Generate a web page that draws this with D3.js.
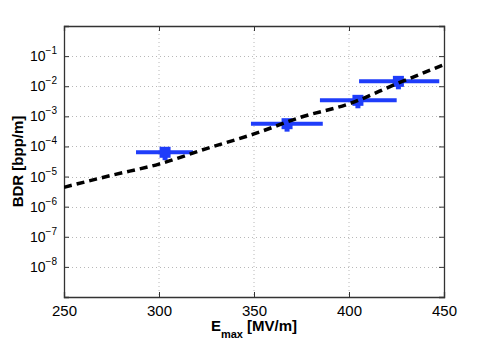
<!DOCTYPE html>
<html><head><meta charset="utf-8">
<script src="https://cdn.jsdelivr.net/npm/d3@7"></script>
<style>body{margin:0;background:#fff}svg{display:block;font-family:"Liberation Sans",Arial,sans-serif}</style>
</head><body>
<script>
// Measured points (E_max in MV/m, BDR in bpp/m)
const pointE    = [303.2, 367.4, 404.7, 426.0];
const pointBDR  = [6.4e-5, 5.7e-4, 3.4e-3, 1.45e-2];
const errELow   = [287.9, 348.4, 384.7, 405.3];
const errEHigh  = [317.9, 386.2, 425.1, 447.5];
const errBLow   = [3.5e-5, 3.1e-4, 1.85e-3, 7.9e-3];
const errBHigh  = [6.4e-5, 5.7e-4, 3.4e-3, 1.45e-2];
// Fitted curve (dashed)
const fitE   = [250, 275, 300, 325, 350, 375, 400, 425, 450];
const fitBDR = [4.4e-6, 1.1e-5, 2.6e-5, 8.5e-5, 2.6e-4, 9.5e-4, 2.6e-3, 1.2e-2, 5.2e-2];
// Ticks
const xTicks = [250, 300, 350, 400, 450];
const yTickExp = [-8, -7, -6, -5, -4, -3, -2, -1];

const W = 491, H = 345;
const m = {l: 64, r: 47, t: 26, b: 48};
const svg = d3.select("body").append("svg").attr("width", W).attr("height", H);
const x = d3.scaleLinear().domain([250, 450]).range([m.l, W - m.r]);
const y = d3.scaleLog().domain([1e-9, 1]).range([H - m.b, m.t]);
const yTicks = yTickExp.map(e => Math.pow(10, e));

const blue = "#1f3dfa";
const g = svg.append("g");

// grid
g.selectAll(".gx").data(xTicks.slice(1, -1)).join("line")
  .attr("x1", d => x(d)).attr("x2", d => x(d)).attr("y1", m.t).attr("y2", H - m.b)
  .attr("stroke", "#b8b8b8").attr("stroke-width", 1).attr("stroke-dasharray", "1,3");
g.selectAll(".gy").data(yTicks).join("line")
  .attr("x1", m.l).attr("x2", W - m.r).attr("y1", d => Math.round(y(d)) + 0.5).attr("y2", d => Math.round(y(d)) + 0.5)
  .attr("stroke", "#b8b8b8").attr("stroke-width", 1).attr("stroke-dasharray", "1,3");

// axes (ticks inward)
const axB = d3.axisBottom(x).tickValues(xTicks).tickSize(-5).tickPadding(8).tickFormat(d3.format("d"));
const axT = d3.axisTop(x).tickValues(xTicks).tickSize(-5).tickFormat("");
const axL = d3.axisLeft(y).tickValues(yTicks).tickSize(-5).tickFormat("");
const axR = d3.axisRight(y).tickValues(yTicks).tickSize(-5).tickFormat("");
const gb = svg.append("g").attr("transform", `translate(0,${H - m.b})`).call(axB);
svg.append("g").attr("transform", `translate(0,${m.t})`).call(axT);
const gl = svg.append("g").attr("transform", `translate(${m.l},0)`).call(axL);
svg.append("g").attr("transform", `translate(${W - m.r},0)`).call(axR);
svg.selectAll(".domain").attr("stroke", "#333").attr("stroke-width", 1.3);
svg.selectAll(".tick line").attr("stroke", "#333");
gb.selectAll("text").attr("font-size", 15).attr("fill", "#000").attr("font-family", "Liberation Sans, Arial, sans-serif");

// y tick labels 10^n
const yl = svg.append("g");
yTickExp.forEach(e => {
  const t = yl.append("text").attr("x", m.l - 7).attr("y", y(Math.pow(10, e)) + 5)
    .attr("text-anchor", "end").attr("font-size", 14).attr("fill", "#000");
  t.append("tspan").text("10");
  t.append("tspan").attr("dy", -7).attr("font-size", 10).text("\u2212" + Math.abs(e));
});

// fitted dashed curve
const line = d3.line().x((d, i) => x(fitE[i])).y(d => y(d)).curve(d3.curveMonotoneX);
svg.append("clipPath").attr("id", "c").append("rect")
  .attr("x", m.l).attr("y", m.t).attr("width", W - m.l - m.r).attr("height", H - m.t - m.b);

// error bars
const pts = svg.append("g");
pts.selectAll(".eh").data(pointE).join("line")
  .attr("x1", (d, i) => x(errELow[i])).attr("x2", (d, i) => x(errEHigh[i]))
  .attr("y1", (d, i) => y(pointBDR[i])).attr("y2", (d, i) => y(pointBDR[i]))
  .attr("stroke", blue).attr("stroke-width", 4);
pts.selectAll(".ev").data(pointE).join("line")
  .attr("x1", d => x(d)).attr("x2", d => x(d))
  .attr("y1", (d, i) => y(errBLow[i])).attr("y2", (d, i) => y(errBHigh[i]))
  .attr("stroke", blue).attr("stroke-width", 5);
pts.selectAll("rect").data(pointE).join("rect")
  .attr("x", d => x(d) - 5.5).attr("y", (d, i) => y(pointBDR[i]) - 5.5)
  .attr("width", 11).attr("height", 11).attr("fill", blue);

svg.append("path").datum(fitBDR).attr("d", line).attr("clip-path", "url(#c)")
  .attr("fill", "none").attr("stroke", "#000").attr("stroke-width", 3.5).attr("stroke-dasharray", "8,5");

// axis labels
const xl = svg.append("text").attr("x", 254).attr("y", 331).attr("text-anchor", "middle")
  .attr("font-size", 15).attr("font-weight", "bold").attr("fill", "#000");
xl.append("tspan").text("E");
xl.append("tspan").attr("dy", 7).attr("font-size", 11).text("max");
xl.append("tspan").attr("dy", -7).text(" [MV/m]");
svg.append("text").attr("transform", `translate(23,${(m.t + H - m.b) / 2}) rotate(-90)`)
  .attr("text-anchor", "middle").attr("font-size", 15).attr("font-weight", "bold").attr("fill", "#000")
  .text("BDR [bpp/m]");
</script>
</body></html>
